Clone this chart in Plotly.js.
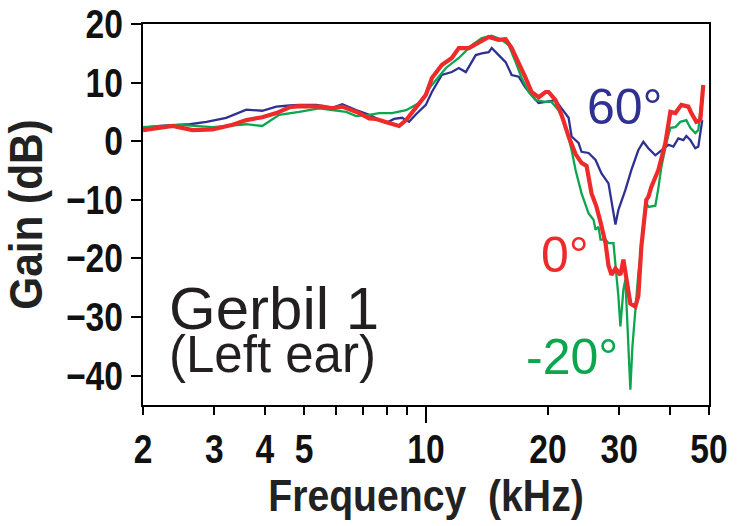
<!DOCTYPE html>
<html>
<head>
<meta charset="utf-8">
<script src="https://cdn.plot.ly/plotly-3.0.1.min.js"></script>
<style>
  html, body { margin: 0; padding: 0; background: #ffffff; }
  #chart { width: 741px; height: 526px; }
</style>
</head>
<body>
<div id="chart"></div>
<script>
// ---- Data ----
// 60° (blue)
const freq60 = [2.00,2.20,2.61,2.87,3.21,3.60,3.94,4.27,4.60,4.86,5.36,5.87,6.21,6.72,7.24,7.97,8.34,8.73,9.08,9.45,9.99,10.34,10.94,11.58,12.05,12.54,13.27,13.73,14.29,14.53,15.12,15.73,16.28,16.94,17.62,18.23,18.97,19.74,20.89,21.62,22.50,22.89,23.81,24.22,25.21,26.23,27.13,28.23,29.37,29.87,31.08,32.16,33.46,34.42,35.41,36.85,38.13,39.69,40.83,42.00,43.21,43.95,44.96,46.25,47.05,48.12];
const gain60 = [2.3,2.6,2.9,3.3,4.0,5.4,5.2,5.9,6.1,6.2,6.2,5.7,6.3,5.3,4.5,3.1,3.8,4.0,3.3,4.6,6.2,8.4,11.3,11.8,12.5,11.8,14.7,15.0,15.2,15.9,14.7,13.5,11.3,11.0,9.1,7.9,6.5,6.7,7.0,5.6,4.0,0.8,-0.3,-1.8,-2.0,-3.2,-5.5,-7.2,-14.2,-11.7,-8.3,-4.9,-1.5,-0.1,-1.2,-2.4,-1.5,-0.6,-0.9,0.5,0.2,0.9,0.2,-1.2,-0.9,3.6];

// -20° (green)
const freqM20 = [2.00,2.46,2.97,3.60,3.94,4.34,4.86,5.45,5.87,6.35,6.72,7.24,7.66,8.24,8.93,9.08,9.61,10.34,11.20,12.05,12.98,13.73,14.53,15.38,16.00,16.65,17.23,17.93,18.65,19.74,20.42,21.25,22.12,22.89,23.41,24.22,25.21,25.93,26.23,26.67,26.98,27.76,28.23,29.04,29.37,29.87,30.21,30.73,31.08,31.43,31.97,32.34,32.89,33.46,34.03,35.01,35.41,36.85,37.49,38.13,39.24,40.14,41.30,42.48,43.95,44.96,46.25,47.05,48.12];
const gainM20 = [2.4,2.8,2.4,2.9,2.6,4.5,5.0,5.6,5.3,5.0,4.3,4.5,4.8,4.8,5.3,5.6,6.5,9.6,12.5,14.2,16.4,17.6,18.0,17.3,16.4,13.5,10.8,8.4,7.0,6.7,6.7,5.3,2.5,-1.5,-4.9,-8.9,-12.3,-13.4,-15.1,-14.6,-16.8,-16.8,-17.4,-17.4,-20.8,-26.5,-31.6,-25.3,-23.6,-32.2,-42.4,-35.1,-28.2,-22.5,-18.0,-10.5,-11.2,-11.0,-8.0,-4.4,-0.3,2.3,2.4,3.3,3.6,2.3,1.4,1.9,8.2];

// 0° (red)
const freq0 = [2.00,2.37,2.65,2.97,3.33,3.60,3.94,4.27,4.60,4.86,5.54,5.87,6.21,6.84,7.24,7.53,8.10,8.58,8.93,9.45,9.99,10.34,10.94,11.58,12.05,12.76,13.50,14.29,15.12,15.73,16.28,16.94,17.62,18.23,18.97,19.74,20.08,20.89,21.62,22.50,23.15,23.41,24.22,24.92,25.64,26.37,26.98,27.76,28.23,28.72,29.37,30.21,30.73,31.26,31.97,32.89,33.46,34.03,35.01,35.41,36.02,37.49,39.01,40.14,41.30,42.72,44.45,45.22,46.52,47.58,48.40];
const gain0 = [1.9,2.6,1.9,2.0,2.8,3.6,4.1,4.8,5.8,6.0,5.9,5.6,5.9,4.8,3.9,3.8,3.1,2.6,3.6,5.9,7.9,10.8,13.0,14.2,15.9,15.9,16.9,17.8,17.3,17.4,15.9,13.5,10.8,8.4,7.5,8.4,8.4,7.0,4.5,0.8,-1.2,-2.2,-3.7,-4.2,-8.9,-11.2,-13.8,-17.4,-21.2,-22.8,-21.7,-22.8,-20.2,-23.1,-27.7,-28.2,-26.4,-18.0,-10.0,-9.5,-7.8,-4.9,-0.3,5.0,4.8,6.2,5.9,4.8,3.3,3.6,9.6];

// Axis ticks
const xTickVals = [2, 3, 4, 5, 10, 20, 30, 50];
const xTickText = ["2", "3", "4", "5", "10", "20", "30", "50"];
const xMinorVals = [6, 7, 8, 9, 40];
const yTickVals = [-40, -30, -20, -10, 0, 10, 20];

// Labels
const seriesLabels = ["60°", "-20°", "0°"];
const panelTitle = "Gerbil 1";
const panelSubtitle = "(Left ear)";

const axisFont = "'Liberation Sans', Arial, sans-serif";
const regular = "'Liberation Sans', Arial, sans-serif";

const traces = [
  { x: freq60, y: gain60, type: 'scatter', mode: 'lines', name: seriesLabels[0],
    line: { color: '#2e3192', width: 2.3 }, showlegend: false },
  { x: freqM20, y: gainM20, type: 'scatter', mode: 'lines', name: seriesLabels[1],
    line: { color: '#0ca64e', width: 2.3 }, showlegend: false },
  { x: freq0, y: gain0, type: 'scatter', mode: 'lines', name: seriesLabels[2],
    line: { color: '#ee2a2a', width: 4.2 }, showlegend: false },
  { x: [], y: [], xaxis: 'x2', yaxis: 'y', type: 'scatter', mode: 'lines', showlegend: false, hoverinfo: 'skip' }
];

const xr = [Math.log10(2), Math.log10(50)];

const layout = {
  width: 741, height: 526,
  margin: { l: 143, r: 32, t: 24, b: 121 },
  paper_bgcolor: '#ffffff', plot_bgcolor: '#ffffff',
  showlegend: false,
  xaxis: {
    type: 'log', range: xr,
    tickmode: 'array', tickvals: xTickVals, ticktext: xTickText,
    ticks: 'outside', ticklen: 8, tickwidth: 2, tickcolor: '#000',
    minor: { tickmode: 'array', tickvals: xMinorVals, ticks: 'outside', ticklen: 8, tickwidth: 2, tickcolor: '#000', showgrid: false },
    showline: true, linewidth: 2, linecolor: '#000', mirror: true,
    showgrid: false, zeroline: false,
    tickfont: { family: axisFont, size: 40, weight: 'bold', color: '#111' },
    title: { text: 'Frequency  (kHz)', standoff: 0, font: { family: axisFont, size: 44, weight: 'bold', color: '#222' } }
  },
  xaxis2: {
    type: 'log', range: xr, overlaying: 'x', anchor: 'y', side: 'bottom',
    tickmode: 'array', tickvals: [10], ticks: 'outside', ticklen: 17, tickwidth: 2, tickcolor: '#000',
    showticklabels: false, showline: false, showgrid: false, zeroline: false
  },
  yaxis: {
    range: [-45, 20],
    tickmode: 'array', tickvals: yTickVals,
    ticks: 'outside', ticklen: 10, tickwidth: 2, tickcolor: '#000',
    showline: true, linewidth: 2, linecolor: '#000', mirror: true,
    showgrid: false, zeroline: false,
    tickfont: { family: axisFont, size: 40, weight: 'bold', color: '#111' },
    title: { text: 'Gain (dB)', standoff: 0, font: { family: axisFont, size: 46, weight: 'bold', color: '#222' } }
  },
  annotations: [
    { xref: 'paper', yref: 'paper', x: 0.042, y: 0.346, xanchor: 'left', yanchor: 'top', align: 'left',
      text: '<span style="font-size:60px">' + panelTitle + '</span><br><span style="font-size:51px">' + panelSubtitle + '</span>',
      showarrow: false, font: { family: regular, size: 33, color: '#231f20' } },
    { xref: 'paper', yref: 'paper', x: 0.852, y: 0.782, xanchor: 'center', yanchor: 'middle',
      text: seriesLabels[0], showarrow: false, font: { family: regular, size: 50, color: '#2e3192' } },
    { xref: 'paper', yref: 'paper', x: 0.745, y: 0.394, xanchor: 'center', yanchor: 'middle',
      text: seriesLabels[2], showarrow: false, font: { family: regular, size: 50, color: '#ee2a2a' } },
    { xref: 'paper', yref: 'paper', x: 0.7576, y: 0.1247, xanchor: 'center', yanchor: 'middle',
      text: seriesLabels[1], showarrow: false, font: { family: regular, size: 50, color: '#0ca64e' } }
  ]
};

// Condense axis text horizontally (the original uses a condensed face)
function condense(selector, factor) {
  document.querySelectorAll(selector).forEach(function (t) {
    const w = t.getComputedTextLength();
    if (w > 0) {
      t.setAttribute('textLength', (w * factor).toFixed(2));
      t.setAttribute('lengthAdjust', 'spacingAndGlyphs');
    }
  });
}

Plotly.newPlot('chart', traces, layout, { staticPlot: true, displayModeBar: false }).then(function () {
  condense('#chart .xtick text, #chart .ytick text', 0.84);
  condense('#chart .g-xtitle text', 0.89);
  condense('#chart .g-ytitle text', 0.92);
});
</script>
</body>
</html>
